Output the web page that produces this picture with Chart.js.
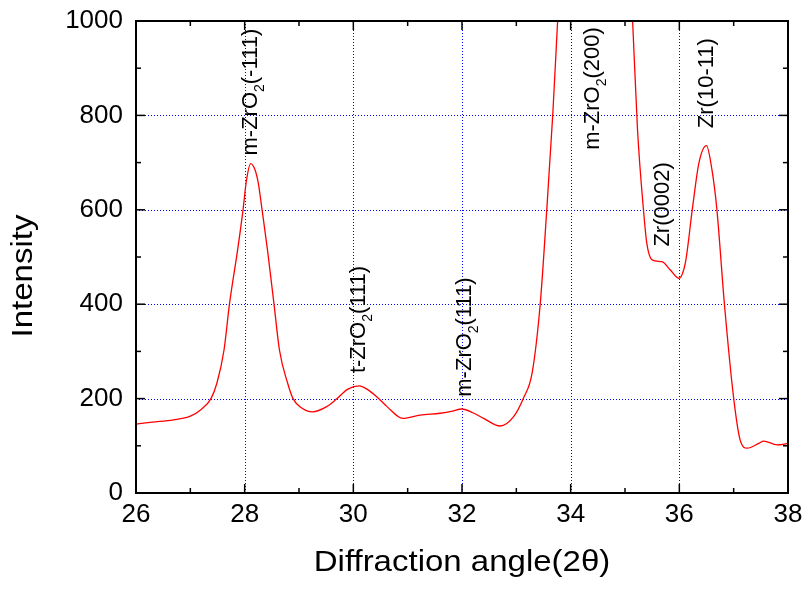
<!DOCTYPE html>
<html>
<head>
<meta charset="utf-8">
<script src="https://cdn.jsdelivr.net/npm/chart.js@4/dist/chart.umd.min.js"></script>
<style>
  html, body { margin: 0; padding: 0; background: #ffffff; }
  #wrap { width: 808px; height: 589px; position: relative; }
</style>
</head>
<body>
<div id="wrap"><canvas id="c" width="808" height="589"></canvas></div>
<script>
// ---- data ----
const angle = [26.00, 26.30, 26.69, 27.00, 27.20, 27.38, 27.49, 27.62, 27.72, 27.87,
  27.97, 28.03, 28.11, 28.19, 28.25, 28.32, 28.42, 28.54, 28.64, 28.79,
  28.89, 29.05, 29.25, 29.51, 29.70, 29.90, 30.11, 30.25, 30.43, 30.62,
  30.91, 31.23, 31.60, 31.80, 32.00, 32.20, 32.40, 32.70, 32.95, 33.13,
  33.29, 33.44, 33.56, 33.67, 33.76, 33.95, 34.20, 34.45, 34.70, 34.95,
  35.14, 35.23, 35.34, 35.40, 35.50, 35.68, 35.83, 35.99, 36.11, 36.24,
  36.36, 36.50, 36.60, 36.69, 36.83, 37.00, 37.12, 37.25, 37.46, 37.55,
  37.80, 38.00];
const intensity = [146, 150, 155, 163, 177, 200, 233, 303, 400, 515,
  600, 660, 698, 685, 657, 600, 515, 400, 303, 233,
  200, 180, 172, 183, 200, 220, 227, 220, 204, 183,
  158, 165, 169, 173, 178, 170, 158, 142, 162, 201,
  254, 401, 600, 801, 1000, 1400, 1700, 1800, 1700, 1400,
  1000, 770, 600, 530, 494, 490, 473, 455, 487, 602,
  699, 736, 685, 602, 400, 201, 112, 95, 105, 110,
  102, 105];

const xTicks = [26, 28, 30, 32, 34, 36, 38];
const yTicks = [0, 200, 400, 600, 800, 1000];
const xMinorTicks = [27, 29, 31, 33, 35, 37];
const yMinorTicks = [100, 300, 500, 700, 900];

const peakMain   = ["m-ZrO", "t-ZrO", "m-ZrO", "m-ZrO", "Zr(0002)", "Zr(10-11)"];
const peakSub    = ["2", "2", "2", "2", "", ""];
const peakSuffix = ["(-111)", "(111)", "(111)", "(200)", "", ""];
const peakX      = [28.12, 30.11, 32.05, 34.41, 35.69, 36.50];
const peakY      = [715, 254, 204, 727, 522, 773];

const xTitle = "Diffraction angle(2\u03B8)";
const yTitle = "Intensity";

// ---- drawing ----
const FONT = '"Liberation Sans", Arial, Helvetica, sans-serif';

const decorPlugin = {
  id: 'decor',
  beforeDatasetsDraw(chart) {
    const ctx = chart.ctx, a = chart.chartArea;
    const xs = chart.scales.x, ys = chart.scales.y;
    ctx.save();
    ctx.strokeStyle = '#0000ff';
    ctx.lineWidth = 1;
    ctx.setLineDash([1, 2]);
    xTicks.forEach(v => {
      if (v === xs.min || v === xs.max) return;
      const p = Math.round(xs.getPixelForValue(v)) + 0.5;
      ctx.beginPath(); ctx.moveTo(p, a.top); ctx.lineTo(p, a.bottom); ctx.stroke();
    });
    yTicks.forEach(v => {
      if (v === ys.min || v === ys.max) return;
      const p = Math.round(ys.getPixelForValue(v)) + 0.5;
      ctx.beginPath(); ctx.moveTo(a.left, p); ctx.lineTo(a.right, p); ctx.stroke();
    });
    ctx.restore();
  },
  afterDatasetsDraw(chart) {
    const ctx = chart.ctx, a = chart.chartArea;
    const xs = chart.scales.x, ys = chart.scales.y;
    ctx.save();
    // frame
    ctx.strokeStyle = '#000';
    ctx.lineWidth = 2;
    ctx.setLineDash([]);
    ctx.strokeRect(a.left, a.top, a.right - a.left, a.bottom - a.top);
    // ticks (inward, mirrored)
    ctx.lineWidth = 1.5;
    const tick = (vals, len) => {
      vals.forEach(v => {
        const p = xs.getPixelForValue(v);
        ctx.beginPath(); ctx.moveTo(p, a.bottom); ctx.lineTo(p, a.bottom - len); ctx.stroke();
        ctx.beginPath(); ctx.moveTo(p, a.top); ctx.lineTo(p, a.top + len); ctx.stroke();
      });
    };
    const tickY = (vals, len) => {
      vals.forEach(v => {
        const p = ys.getPixelForValue(v);
        ctx.beginPath(); ctx.moveTo(a.left, p); ctx.lineTo(a.left + len, p); ctx.stroke();
        ctx.beginPath(); ctx.moveTo(a.right, p); ctx.lineTo(a.right - len, p); ctx.stroke();
      });
    };
    tick(xTicks, 9); tick(xMinorTicks, 5);
    tickY(yTicks, 9); tickY(yMinorTicks, 5);

    // peak labels (rotated, reading bottom-to-top)
    ctx.fillStyle = '#000';
    peakMain.forEach((t, i) => {
      const px = xs.getPixelForValue(peakX[i]);
      const py = ys.getPixelForValue(peakY[i]);
      ctx.save();
      ctx.translate(px, py);
      ctx.rotate(-Math.PI / 2);
      ctx.textAlign = 'left';
      ctx.textBaseline = 'middle';
      ctx.font = '22px ' + FONT;
      ctx.fillText(t, 0, 0);
      let off = ctx.measureText(t).width;
      if (peakSub[i]) {
        ctx.font = '14px ' + FONT;
        ctx.fillText(peakSub[i], off, 9);
        off += ctx.measureText(peakSub[i]).width;
      }
      if (peakSuffix[i]) {
        ctx.font = '22px ' + FONT;
        ctx.fillText(peakSuffix[i], off, 0);
      }
      ctx.restore();
    });

    // axis titles
    ctx.font = '30px ' + FONT;
    ctx.textAlign = 'center';
    ctx.textBaseline = 'middle';
    ctx.save();
    ctx.translate((a.left + a.right) / 2, a.bottom + 70);
    ctx.scale(1.1, 1);
    ctx.fillText(xTitle, 0, 0);
    ctx.restore();
    ctx.save();
    ctx.translate(24, (a.top + a.bottom) / 2 + 19);
    ctx.rotate(-Math.PI / 2);
    ctx.scale(1.1, 1);
    ctx.fillText(yTitle, 0, 0);
    ctx.restore();
    ctx.restore();
  }
};

const points = angle.map((x, i) => ({ x: x, y: intensity[i] }));

new Chart(document.getElementById('c'), {
  type: 'line',
  data: {
    datasets: [{
      data: points,
      borderColor: '#ff0000',
      borderWidth: 1.3,
      pointRadius: 0,
      fill: false,
      cubicInterpolationMode: 'monotone'
    }]
  },
  options: {
    responsive: false,
    animation: false,
    events: [],
    layout: { padding: { top: 21, right: 20, left: 0, bottom: 0 } },
    plugins: { legend: { display: false }, tooltip: { enabled: false } },
    scales: {
      x: {
        type: 'linear',
        min: 26, max: 38,
        afterBuildTicks: s => { s.ticks = xTicks.map(v => ({ value: v })); },
        afterFit: s => { s.height = 96; s.paddingLeft = 0; s.paddingRight = 0; },
        grid: { display: false, drawTicks: false },
        border: { display: false },
        ticks: {
          padding: 6,
          color: '#000',
          font: { size: 26, family: FONT },
          maxRotation: 0,
          callback: v => String(v)
        }
      },
      y: {
        type: 'linear',
        min: 0, max: 1000,
        afterBuildTicks: s => { s.ticks = yTicks.map(v => ({ value: v })); },
        afterFit: s => { s.width = 136; s.paddingTop = 0; s.paddingBottom = 0; },
        grid: { display: false, drawTicks: false },
        border: { display: false },
        ticks: {
          padding: 13,
          color: '#000',
          font: { size: 26, family: FONT },
          callback: v => String(v)
        }
      }
    }
  },
  plugins: [decorPlugin]
});
</script>
</body>
</html>
